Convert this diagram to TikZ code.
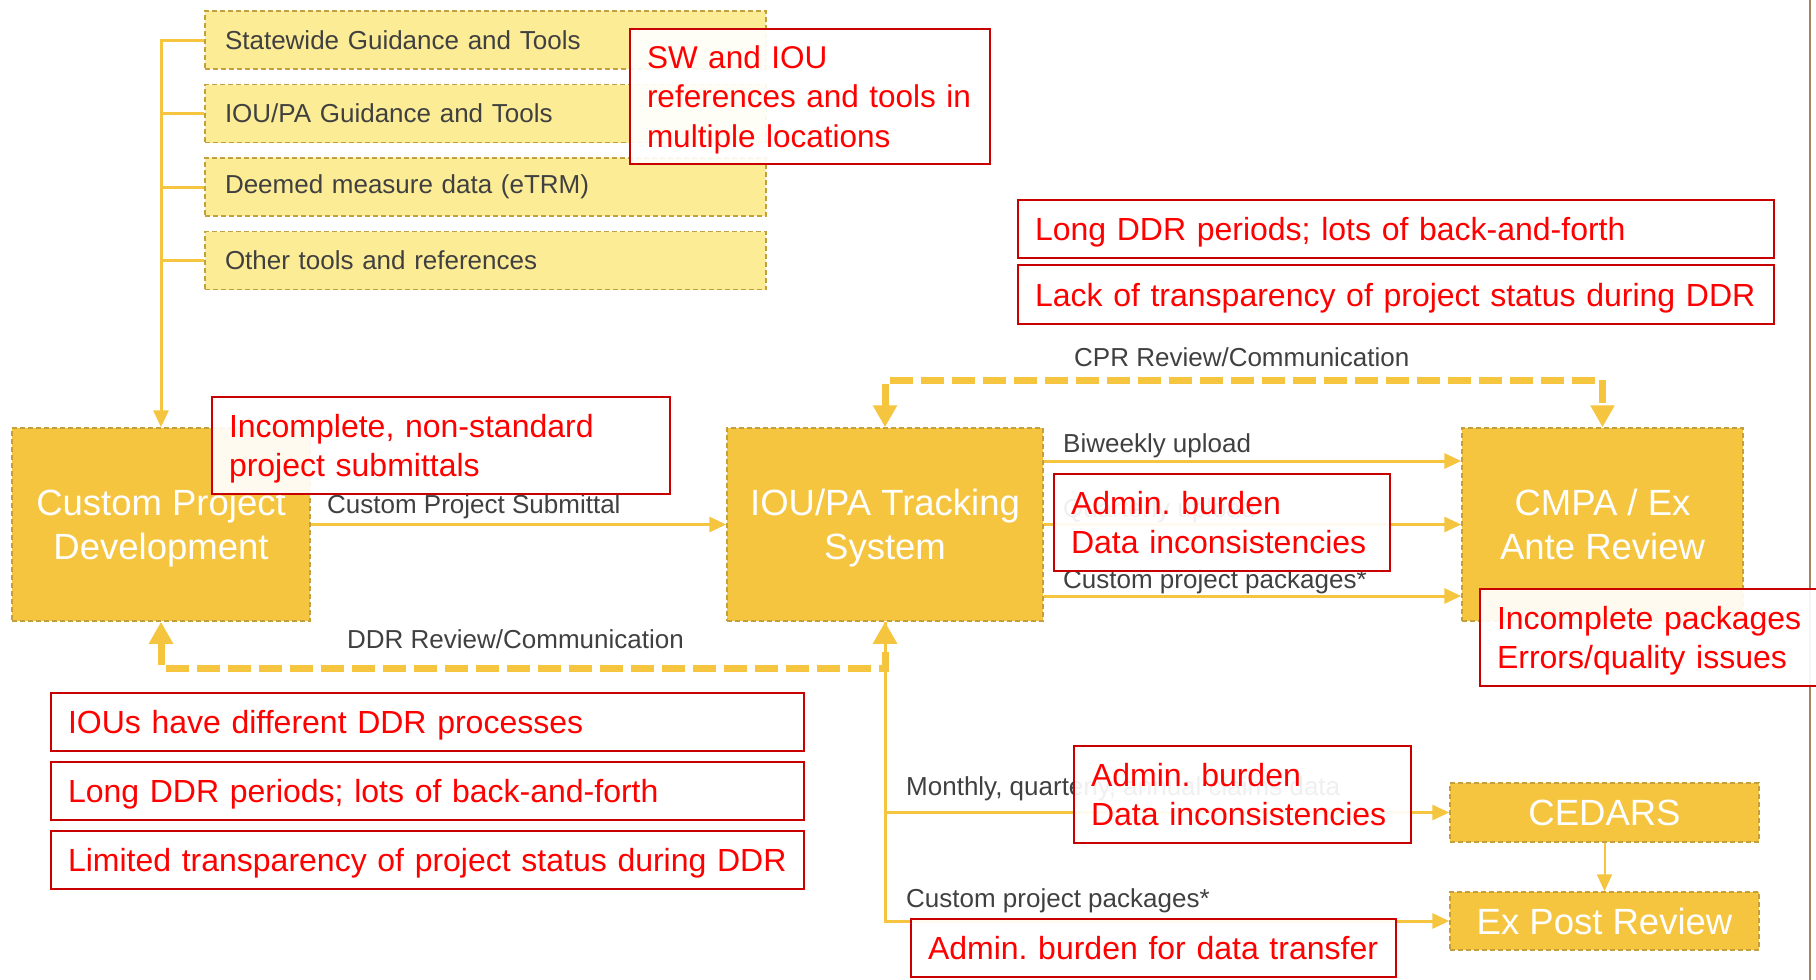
\documentclass[tikz,border=0pt]{standalone}
\usepackage{fontspec}
\setmainfont{Liberation Sans}
\frenchspacing
\usetikzlibrary{arrows.meta,positioning}
\definecolor{gold}{RGB}{245,197,64}
\definecolor{golddash}{RGB}{196,160,60}
\definecolor{toolfill}{RGB}{252,236,150}
\definecolor{issuered}{RGB}{255,0,0}
\definecolor{issueframe}{RGB}{200,0,0}
\definecolor{lbl}{RGB}{64,64,64}
\definecolor{pageedge}{RGB}{160,135,95}

\begin{document}
\begin{tikzpicture}[x=1pt,y=-1pt,
  phase/.style={draw=golddash,dash pattern=on 5pt off 3pt,line width=1.5pt,fill=gold,text=white,align=center,font=\fontsize{36.5}{44}\selectfont,inner sep=0pt,text depth=0pt},
  toolbox/.style={draw=golddash,dash pattern=on 5pt off 3pt,line width=1.5pt,fill=toolfill,text=lbl,font=\fontsize{26}{31}\selectfont,minimum height=58pt,text width=521pt,inner xsep=20pt,align=left},
  issue/.style 2 args={draw=issueframe,line width=1.5pt,fill=white,fill opacity=0.92,text opacity=1,text=issuered,font=\fontsize{32}{38.5}\selectfont,align=left,inner xsep=17pt,text width=#1,minimum height=#2,text depth=0pt},
  twolines/.style={text depth=38.5pt},
  flowlbl/.style={text=lbl,font=\fontsize{26}{31}\selectfont,inner sep=0pt,anchor=base west},
  flow/.style={draw=gold,line width=3pt,-{Triangle[length=17pt,width=15pt]}},
  feedback/.style={draw=gold,line width=7pt,dash pattern=on 23pt off 8pt,{Triangle[length=22pt,width=23pt]}-{Triangle[length=22pt,width=23pt]}}]
  \useasboundingbox (0,0) rectangle (1816,980);
  \draw[pageedge,line width=2pt] (1810,0) -- (1810,980);

  %tools
  \node[toolbox] (sw) at (485.5,40) {Statewide Guidance and Tools};
  \node[toolbox,below=14pt of sw] (pa) {IOU/PA Guidance and Tools};
  \node[toolbox,below=14pt of pa] (etrm) {Deemed measure data (eTRM)};
  \node[toolbox,below=14pt of etrm] (other) {Other tools and references};

  %phases
  \node[phase,minimum width=298pt,minimum height=193pt] (cpd) at (161,524.5) {Custom Project\\Development};
  \node[phase,minimum width=316pt,minimum height=193pt] (iou) at (885,524.5) {IOU/PA Tracking\\System};
  \node[phase,minimum width=281pt,minimum height=193pt] (cmpa) at (1602.5,524.5) {CMPA / Ex\\Ante Review};
  \node[phase,minimum width=309pt,minimum height=59pt] (cedars) at (1604.5,812.5) {CEDARS};
  \node[phase,minimum width=309pt,minimum height=58pt] (expost) at (1604.5,921) {Ex Post Review};

  %flows
  \draw[flow] (sw.west) -| (cpd.north);
  \foreach \t in {pa,etrm,other}
    \draw[gold,line width=3pt] (\t.west) -- (\t.west -| cpd.north);
  \draw[flow] (cpd.east) -- (iou.west);
  \draw[flow] ([yshift=63.5pt]iou.east) -- ([yshift=63.5pt]cmpa.west);
  \draw[flow] (iou.east) -- (cmpa.west);
  \draw[flow] ([yshift=-71.5pt]iou.east) -- ([yshift=-71.5pt]cmpa.west);
  \draw[flow] (iou.south) |- (expost.west);
  \draw[flow] (iou.south |- cedars.west) -- (cedars.west);
  \draw[flow,line width=2pt] (cedars.south) -- (expost.north);
  \draw[feedback] (iou.north) -- ++(0,-47) -| (cmpa.north);
  \draw[feedback] (cpd.south) -- ++(0,47) -| (iou.south);

  %labels
  \node[flowlbl] (lblsub) at (327,513) {Custom Project Submittal};
  \node[flowlbl] (lblddr) at (347,648) {DDR Review/Communication};
  \node[flowlbl] (lblcpr) at (1074,366) {CPR Review/Communication};
  \node[flowlbl] (lblbiw) at (1063,452) {Biweekly upload};
  \node[flowlbl] (lblqtr) at (1063,517) {Quarterly upload};
  \node[flowlbl] (lblpkg) at (1063,588) {Custom project packages*};
  \node[flowlbl] (lblclm) at (906,795) {Monthly, quarterly, annual claims data};
  \node[flowlbl] (lblpkgb) at (906,907) {Custom project packages*};

  %issues
  \node[issue={326pt}{135pt},font=\fontsize{31.5}{39.5}\selectfont,text depth=79pt] (swiss) at (810,96.5) {SW and IOU\\references and tools in\\multiple locations};
  \node[issue={424pt}{97pt},twolines] (subiss) at (441,445.5) {Incomplete, non-standard\\project submittals};
  \node[issue={722pt}{58pt}] (cprlong) at (1396,229) {Long DDR periods; lots of back-and-forth};
  \node[issue={722pt}{59pt}] (cprlack) at (1396,294.5) {Lack of transparency of project status during DDR};
  \node[issue={302pt}{97pt},twolines] (upliss) at (1222,522.5) {Admin. burden\\Data inconsistencies};
  \node[issue={306pt}{97pt},twolines] (pkgiss) at (1650,637.5) {Incomplete packages\\Errors/quality issues};
  \node[issue={719pt}{58pt}] (ddrdiff) at (427.5,722) {IOUs have different DDR processes};
  \node[issue={719pt}{58pt}] (ddrlong) at (427.5,791) {Long DDR periods; lots of back-and-forth};
  \node[issue={719pt}{58pt}] (ddrlim) at (427.5,860) {Limited transparency of project status during DDR};
  \node[issue={303pt}{97pt},twolines] (clmiss) at (1242.5,794.5) {Admin. burden\\Data inconsistencies};
  \node[issue={451pt}{58pt}] (xferiss) at (1153.5,948) {Admin. burden for data transfer};
\end{tikzpicture}
\end{document}
